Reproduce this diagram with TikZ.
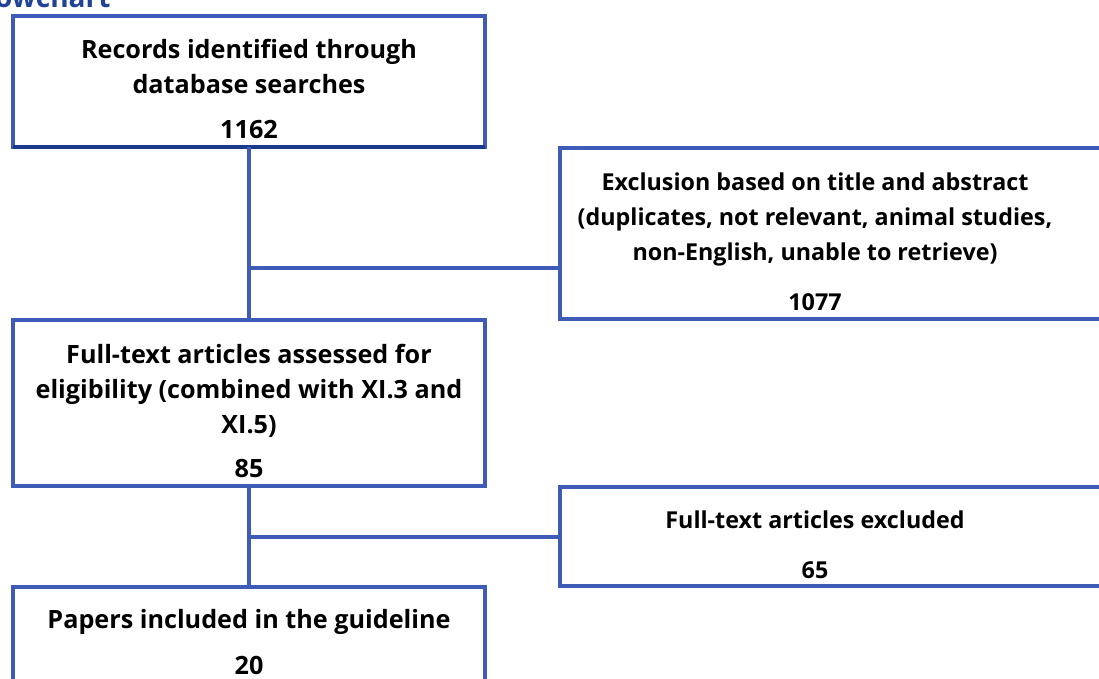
\documentclass[tikz,border=0pt]{standalone}
\usepackage{fontspec}
\setmainfont{Open Sans}
\definecolor{boxblue}{HTML}{3F5BB8}
\definecolor{navy}{HTML}{1B3A8C}
\definecolor{titleblue}{HTML}{1F4396}
\begin{document}
\begin{tikzpicture}[x=1pt,y=-1pt,
  box/.style={draw=boxblue, line width=3.4pt, rectangle, outer sep=0pt, inner sep=0pt, anchor=north west},
  label/.style={font=\fontsize{25.2}{35}\selectfont\bfseries, align=center, anchor=base, inner sep=0pt},
  sidelabel/.style={label, font=\fontsize{23.3}{35}\selectfont\bfseries},
  link/.style={draw=boxblue, line width=3.4pt}]
\useasboundingbox (0,0) rectangle (1099,678);

% heading, partly outside the page
\node[anchor=base west, inner sep=0pt, text=titleblue, font=\fontsize{28}{30}\selectfont\bfseries] (title) at (-5,7) {owchart};

% boxes
\node[box, minimum width=472pt, minimum height=131pt] (b1) at (13,16) {};
\node[box, minimum width=560pt, minimum height=171pt] (b2) at (560,148) {};
\node[box, minimum width=472pt, minimum height=166pt] (b3) at (13,320) {};
\node[box, minimum width=560pt, minimum height=99pt]  (b4) at (560,487) {};
\node[box, minimum width=472pt, minimum height=120pt] (b5) at (13,587) {};
\draw[navy, line width=3.4pt] (b1.south west) -- (b1.south east);

% box texts (anchor base = baseline of the last line)
\node[label] (t1) at (249,93) {Records identified through\\database searches};
\node[label] (n1) at (249,138) {1162};
\node[sidelabel] (t2) at (815,260) {Exclusion based on title and abstract\\(duplicates, not relevant, animal studies,\\non-English, unable to retrieve)};
\node[sidelabel] (n2) at (815,310) {1077};
\node[label] (t3) at (249,433) {Full-text articles assessed for\\eligibility (combined with XI.3 and\\XI.5)};
\node[label] (n3) at (249,477) {85};
\node[sidelabel] (t4) at (815,528) {Full-text articles excluded};
\node[sidelabel] (n4) at (815,578) {65};
\node[label] (t5) at (249,628) {Papers included in the guideline};
\node[label] (n5) at (249,674) {20};

% connectors
\coordinate (j1) at (249,268);
\coordinate (j2) at (249,537);
\draw[link] (b1.south) -- (b3.north);
\draw[link] (b3.south) -- (b5.north);
\draw[link] (j1) -- (j1 -| b2.west);
\draw[link] (j2) -- (j2 -| b4.west);
\end{tikzpicture}
\end{document}
